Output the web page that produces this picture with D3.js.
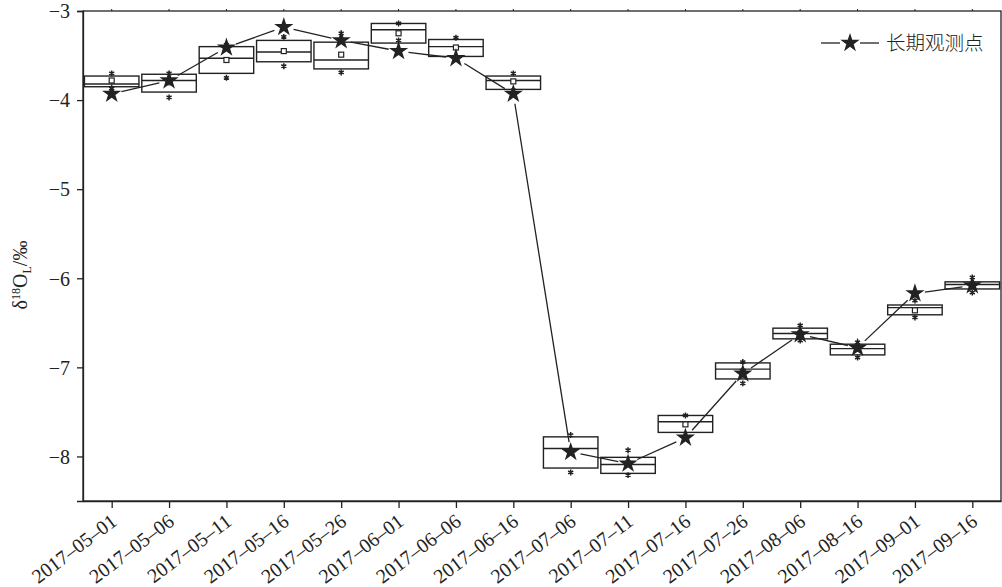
<!DOCTYPE html>
<html>
<head>
<meta charset="utf-8">
<script src="https://cdn.jsdelivr.net/npm/d3@7"></script>
<style>
  html, body { margin: 0; padding: 0; background: #fff; }
  svg { display: block; }
  .tick text { font-family: "Liberation Serif", "DejaVu Serif", serif; fill: #222; }
</style>
</head>
<body>
<svg id="chart" width="1002" height="587"></svg>
<script>
// Sampling dates (category axis)
const dates = ["2017–05–01","2017–05–06","2017–05–11","2017–05–16","2017–05–26","2017–06–01",
  "2017–06–06","2017–06–16","2017–07–06","2017–07–11","2017–07–16","2017–07–26",
  "2017–08–06","2017–08–16","2017–09–01","2017–09–16"];

// Box statistics of δ18O (‰) per date
const q3Vals   = [-3.73,-3.71,-3.40,-3.33,-3.35,-3.14,-3.32,-3.73,-7.78,-8.01,-7.54,-6.95,-6.56,-6.74,-6.30,-6.04];
const q1Vals   = [-3.85,-3.91,-3.70,-3.57,-3.65,-3.36,-3.51,-3.88,-8.13,-8.19,-7.73,-7.13,-6.68,-6.86,-6.41,-6.12];
const medVals  = [-3.82,-3.78,-3.53,-3.46,-3.55,-3.21,-3.40,-3.78,-7.91,-8.09,-7.61,-7.02,-6.62,-6.79,-6.33,-6.07];
const meanVals = [-3.78,-3.80,-3.55,-3.45,-3.49,-3.25,-3.41,-3.79,-7.95,-8.08,-7.64,-7.05,-6.62,-6.79,-6.36,-6.08];
const maxVals  = [-3.70,-3.70,-3.38,-3.29,-3.25,-3.14,-3.30,-3.70,-7.76,-7.93,-7.54,-6.94,-6.53,-6.72,-6.25,-5.99];
const minVals  = [-3.87,-3.97,-3.75,-3.62,-3.69,-3.33,-3.52,-3.89,-8.18,-8.21,-7.78,-7.18,-6.70,-6.89,-6.44,-6.16];

// Long-term observation point
const longTerm = [-3.93,-3.78,-3.41,-3.18,-3.33,-3.45,-3.53,-3.93,-7.95,-8.08,-7.79,-7.07,-6.63,-6.78,-6.17,-6.08];

const yTicks = [-3,-4,-5,-6,-7,-8];
const legendLabel = "长期观测点";

const ink = "#222";
const svg = d3.select("#chart");
const L = 83, R = 1001, T = 11, B = 501;

const x = d3.scalePoint().domain(dates).range([L, R]).padding(0.5);
const y = d3.scaleLinear().domain([-8.5, -3]).range([B, T]);
const boxW = x.step() * 0.95;

// Frame
svg.append("rect").attr("x", L).attr("y", T).attr("width", R - L).attr("height", B - T)
  .attr("fill", "none").attr("stroke", ink).attr("stroke-width", 1.3);

// Mirror ticks on top
svg.append("g").selectAll("line").data(dates).join("line")
  .attr("x1", d => x(d)).attr("x2", d => x(d)).attr("y1", T).attr("y2", T - 2)
  .attr("stroke", ink).attr("stroke-width", 1);

// Axes
const fmt = d3.format("d");
const yAxis = svg.append("g").attr("transform", `translate(${L},0)`)
  .call(d3.axisLeft(y).tickValues(yTicks).tickSize(6).tickPadding(7).tickFormat(fmt));
yAxis.select(".domain").attr("stroke", ink).attr("stroke-width", 1.3);
yAxis.selectAll(".tick line").attr("stroke", ink).attr("stroke-width", 1.3);
yAxis.selectAll(".tick text").attr("font-size", 20).attr("dy", "0.34em");

const xAxis = svg.append("g").attr("transform", `translate(0,${B})`)
  .call(d3.axisBottom(x).tickSize(7).tickSizeOuter(0));
xAxis.select(".domain").attr("stroke", ink).attr("stroke-width", 1.3);
xAxis.selectAll(".tick line").attr("stroke", ink).attr("stroke-width", 1.3);
xAxis.selectAll(".tick text")
  .attr("font-size", 20)
  .attr("text-anchor", "end")
  .attr("y", 0).attr("dy", 0)
  .attr("transform", "translate(6,23) rotate(-37)");

// Y axis title
const yt = svg.append("text")
  .attr("transform", "translate(27,275) rotate(-90)")
  .attr("text-anchor", "middle")
  .attr("font-family", "Liberation Serif, serif")
  .attr("font-size", 20).attr("fill", ink);
yt.append("tspan").text("δ");
yt.append("tspan").text("18").attr("font-size", 12).attr("dy", -7);
yt.append("tspan").text("O").attr("dy", 7);
yt.append("tspan").text("L").attr("font-size", 12).attr("dy", 4);
yt.append("tspan").text("/‰").attr("dy", -4);

// Boxes
const idx = d3.range(dates.length);
const boxes = svg.append("g");
boxes.selectAll("rect").data(idx).join("rect")
  .attr("x", i => x(dates[i]) - boxW / 2)
  .attr("y", i => y(q3Vals[i]))
  .attr("width", boxW)
  .attr("height", i => y(q1Vals[i]) - y(q3Vals[i]))
  .attr("fill", "none").attr("stroke", ink).attr("stroke-width", 1.4);
boxes.selectAll("line.med").data(idx).join("line").attr("class", "med")
  .attr("x1", i => x(dates[i]) - boxW / 2).attr("x2", i => x(dates[i]) + boxW / 2)
  .attr("y1", i => y(medVals[i])).attr("y2", i => y(medVals[i]))
  .attr("stroke", ink).attr("stroke-width", 1.4);
boxes.selectAll("rect.mean").data(idx).join("rect").attr("class", "mean")
  .attr("x", i => x(dates[i]) - 2.5).attr("y", i => y(meanVals[i]) - 2.5)
  .attr("width", 5).attr("height", 5)
  .attr("fill", "#fff").attr("stroke", ink).attr("stroke-width", 1.2);

// Connecting line, with a small gap around each star
const gap = 10;
const pts = idx.map(i => [x(dates[i]), y(longTerm[i])]);
const segs = d3.pairs(pts).map(([a, b]) => {
  const dx = b[0] - a[0], dy = b[1] - a[1], len = Math.hypot(dx, dy);
  const ux = dx / len, uy = dy / len;
  return [a[0] + ux * gap, a[1] + uy * gap, b[0] - ux * gap, b[1] - uy * gap];
});
svg.append("g").selectAll("line").data(segs).join("line")
  .attr("x1", s => s[0]).attr("y1", s => s[1]).attr("x2", s => s[2]).attr("y2", s => s[3])
  .attr("stroke", ink).attr("stroke-width", 1.3);

// Stars
const star = d3.symbol().type(d3.symbolStar).size(115);
svg.append("g").selectAll("path").data(idx).join("path")
  .attr("d", star)
  .attr("transform", i => `translate(${x(dates[i])},${y(longTerm[i])})`)
  .attr("fill", ink);

// Extreme markers
const mark = d3.symbol().type(d3.symbolAsterisk).size(24);
const extremes = idx.flatMap(i => [[dates[i], maxVals[i]], [dates[i], minVals[i]]]);
svg.append("g").selectAll("path").data(extremes).join("path")
  .attr("d", mark)
  .attr("transform", d => `translate(${x(d[0])},${y(d[1])})`)
  .attr("fill", "none").attr("stroke", ink).attr("stroke-width", 1.5);

// Legend
const lg = svg.append("g").attr("transform", "translate(850,43)");
lg.append("line").attr("x1", -29).attr("x2", -10).attr("stroke", ink).attr("stroke-width", 1.3);
lg.append("line").attr("x1", 10).attr("x2", 29).attr("stroke", ink).attr("stroke-width", 1.3);
lg.append("path").attr("d", star).attr("fill", ink);
lg.append("text").attr("x", 36).attr("y", 7)
  .attr("font-family", "Noto Sans CJK SC, sans-serif").attr("font-weight", 300)
  .attr("font-size", 19.5).attr("fill", ink).text(legendLabel);
</script>
</body>
</html>
